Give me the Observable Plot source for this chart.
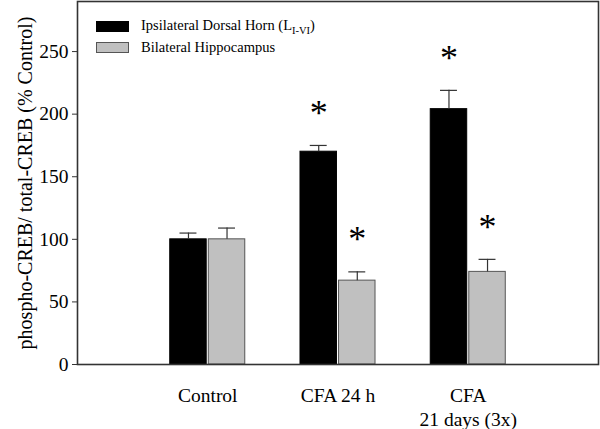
<!DOCTYPE html>
<html>
<head>
<meta charset="utf-8">
<script src="https://cdn.jsdelivr.net/npm/d3@7"></script>
<script src="https://cdn.jsdelivr.net/npm/@observablehq/plot@0.6"></script>
<style>
  body { margin: 0; background: #fff; }
  #wrap { position: relative; width: 600px; height: 429px; font-family: 'Liberation Serif', 'Times New Roman', serif; }
  #chart svg, #chart svg text { font-family: 'Liberation Serif', 'Times New Roman', serif !important; }
  #legend { position: absolute; left: 96px; top: 16px; font-size: 14.5px; color: #000; font-family: 'Liberation Serif', 'Times New Roman', serif; }
  .row { display: flex; align-items: center; height: 21px; }
  .sw { width: 31px; height: 9px; margin-right: 12px; border: 1px solid #444; box-sizing: content-box; }
  sub { font-size: 10.5px; vertical-align: -4px; }
</style>
</head>
<body>
<div id="wrap">
  <div id="chart"></div>
  <div id="legend"></div>
</div>
<script>
// ---- data ----
const groups = ["Control", "CFA 24 h", "CFA\n21 days (3x)"];
const seriesNames = ["Ipsilateral Dorsal Horn", "Bilateral Hippocampus"];
const dorsalHorn = [100, 170, 204];
const dorsalHornErr = [5, 5, 15];
const dorsalHornSig = [false, true, true];
const hippocampus = [100, 67, 74];
const hippocampusErr = [9, 7, 10];
const hippocampusSig = [false, true, true];
const yTicks = [0, 50, 100, 150, 200, 250];
const seriesColors = ["#000000", "#c0c0c0"];

// ---- table ----
const barW = 0.28, gap = 0.016, capHalf = 0.065;
const rows = [];
groups.forEach((g, i) => {
  const c = i + 1;
  rows.push({group: g, series: seriesNames[0], s: 0, value: dorsalHorn[i], err: dorsalHornErr[i], sig: dorsalHornSig[i],
             x1: c - gap / 2 - barW, x2: c - gap / 2});
  rows.push({group: g, series: seriesNames[1], s: 1, value: hippocampus[i], err: hippocampusErr[i], sig: hippocampusSig[i],
             x1: c + gap / 2, x2: c + gap / 2 + barW});
});
rows.forEach(d => { d.xc = (d.x1 + d.x2) / 2; d.top = d.value + d.err; });

const plot = Plot.plot({
  width: 600,
  height: 429,
  marginLeft: 77,
  marginRight: 2,
  marginTop: 1,
  marginBottom: 65,
  style: {fontFamily: "'Liberation Serif', 'Times New Roman', serif", background: "#fff"},
  x: {type: "linear", domain: [0, 4]},
  y: {domain: [0, 290]},
  marks: [
    Plot.rectY(rows, {x1: "x1", x2: "x2", y1: 0, y2: "value",
      fill: d => seriesColors[d.s], stroke: d => d.s === 0 ? "#000" : "#555", strokeWidth: 1}),
    Plot.ruleX(rows, {x: "xc", y1: "value", y2: "top", stroke: "#333", strokeWidth: 1.2}),
    Plot.ruleY(rows, {y: "top", x1: d => d.xc - capHalf, x2: d => d.xc + capHalf, stroke: "#333", strokeWidth: 1.2}),
    Plot.text(rows.filter(d => d.sig), {x: "xc", y: "top", text: () => "*", fontSize: 36, dy: -32,
      lineAnchor: "middle", fill: "#000"}),
    Plot.frame({stroke: "#333", strokeWidth: 1.6}),
    Plot.axisY({ticks: yTicks, tickSize: 5, tickPadding: 4, fontSize: 19.5, label: null, stroke: "#333", color: "#000"}),
    Plot.axisX({ticks: [1, 2, 3], tickFormat: d => groups[d - 1], tickSize: 0, tickPadding: 21,
      fontSize: 19.5, lineHeight: 1.2, label: null, color: "#000"}),
    Plot.text(["phospho-CREB/ total-CREB (% Control)"], {frameAnchor: "left", dx: -52, rotate: -90,
      fontSize: 20, fill: "#000", textAnchor: "middle"})
  ]
});
document.getElementById("chart").appendChild(plot);

// ---- legend (HTML overlay) ----
const legend = document.getElementById("legend");
const legendLabels = [seriesNames[0] + " (L<sub>I-VI</sub>)", seriesNames[1]];
legendLabels.forEach((lab, i) => {
  const row = document.createElement("div");
  row.className = "row";
  row.innerHTML = `<span class="sw" style="background:${seriesColors[i]};border-color:${i === 0 ? '#000' : '#555'}"></span><span>${lab}</span>`;
  legend.appendChild(row);
});
</script>
</body>
</html>
